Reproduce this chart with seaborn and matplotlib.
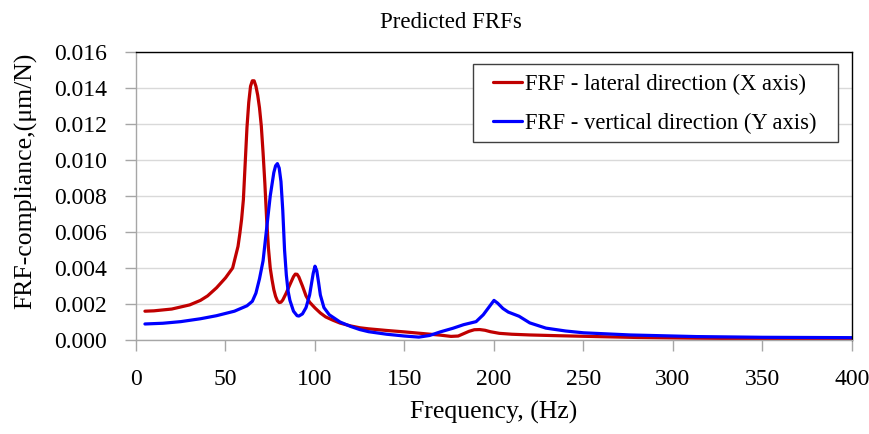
import pandas as pd
import matplotlib
matplotlib.use("Agg")
import matplotlib.pyplot as plt
import matplotlib.ticker as mticker
from matplotlib.patches import Rectangle
import seaborn as sns

# FRF - lateral direction (X axis)
freq_x = [5, 10, 20, 30, 36, 40, 45, 50, 54, 57, 58, 59, 60, 61, 62, 63, 64, 65, 66,
          67, 68, 69, 70, 71, 72, 73, 74, 75, 76, 77, 78, 79, 80, 81, 82, 84, 86, 88,
          89, 90, 91, 93, 95, 97, 100, 103, 106, 110, 114, 120, 125, 130, 140, 150,
          160, 170, 176, 180, 183, 186, 189, 192, 195, 198, 203, 210, 220, 235, 257,
          280, 313, 350, 400]
comp_x = [0.00160, 0.00162, 0.00172, 0.00195, 0.00220, 0.00245, 0.00290, 0.00345,
          0.00400, 0.00520, 0.00590, 0.00670, 0.00780, 0.00980, 0.01180, 0.01320,
          0.01410, 0.01440, 0.01440, 0.01410, 0.01360, 0.01290, 0.01190, 0.01040,
          0.00870, 0.00670, 0.00510, 0.00400, 0.00335, 0.00280, 0.00242, 0.00218,
          0.00208, 0.00210, 0.00222, 0.00262, 0.00308, 0.00352, 0.00366, 0.00365,
          0.00350, 0.00300, 0.00245, 0.00210, 0.00178, 0.00150, 0.00128, 0.00110,
          0.00094, 0.00078, 0.00068, 0.00062, 0.00053, 0.00045, 0.00036, 0.00027,
          0.00020, 0.00022, 0.00035, 0.00048, 0.00057, 0.00058, 0.00054, 0.00046,
          0.00037, 0.00032, 0.00028, 0.00024, 0.00019, 0.00014, 0.00010, 0.00007,
          0.00005]

# FRF - vertical direction (Y axis)
freq_y = [5, 15, 25, 36, 45, 55, 62, 65, 67, 69, 71, 73, 75, 77, 78, 79, 80, 81, 82,
          83, 84, 85, 86, 88, 90, 91, 93, 95, 97, 99, 100, 101, 102, 103, 105, 108,
          114, 120, 125, 130, 140, 150, 158, 164, 170, 177, 183, 190, 194, 197, 200,
          202, 205, 208, 214, 220, 229, 240, 250, 276, 313, 350, 400]
comp_y = [0.00089, 0.00093, 0.00102, 0.00118, 0.00135, 0.00160, 0.00190, 0.00215,
          0.00260, 0.00340, 0.00440, 0.00620, 0.00800, 0.00930, 0.00968, 0.00980,
          0.00955, 0.00880, 0.00720, 0.00500, 0.00360, 0.00270, 0.00220, 0.00160,
          0.00135, 0.00133, 0.00145, 0.00180, 0.00250, 0.00370, 0.00410, 0.00385,
          0.00320, 0.00250, 0.00180, 0.00140, 0.00100, 0.00075, 0.00058, 0.00046,
          0.00032, 0.00022, 0.00016, 0.00025, 0.00045, 0.00065, 0.00085, 0.00102,
          0.00140, 0.00180, 0.00220, 0.00205, 0.00175, 0.00155, 0.00132, 0.00095,
          0.00066, 0.00050, 0.00040, 0.00028, 0.00019, 0.00015, 0.00013]

series_names = ["FRF - lateral direction (X axis)", "FRF - vertical direction (Y axis)"]

df = pd.concat([
    pd.DataFrame({"freq": freq_x, "comp": comp_x, "series": series_names[0]}),
    pd.DataFrame({"freq": freq_y, "comp": comp_y, "series": series_names[1]}),
])

sns.set_theme(style="whitegrid")
plt.rcParams['font.family'] = ['Liberation Serif', 'DejaVu Serif']

fig = plt.figure(figsize=(8.7, 4.34), dpi=100)
ax = fig.add_axes([0.1563, 0.2166, 0.823, 0.6636])

sns.lineplot(data=df, x="freq", y="comp", hue="series", estimator=None, sort=False,
             palette={series_names[0]: "#C00000", series_names[1]: "#0000FF"},
             linewidth=2.3, ax=ax)

ax.set_xlim(0, 400)
ax.set_ylim(0, 0.016)
ax.xaxis.set_major_locator(mticker.MultipleLocator(50))
ax.yaxis.set_major_locator(mticker.MultipleLocator(0.002))
ax.yaxis.set_major_formatter(mticker.FormatStrFormatter('%.3f'))

ax.grid(axis='x', visible=False)
ax.grid(axis='y', color='#d9d9d9', linewidth=1.0)
ax.set_facecolor('white')
for side in ['top', 'right']:
    ax.spines[side].set_color('black')
    ax.spines[side].set_linewidth(1.0)
for side in ['left', 'bottom']:
    ax.spines[side].set_color('#a6a6a6')
    ax.spines[side].set_linewidth(1.0)

ax.tick_params(axis='both', which='major', direction='out', length=8, width=1,
               color='#a6a6a6', labelsize=17, labelcolor='black')
ax.tick_params(axis='x', pad=13, bottom=True)
ax.tick_params(axis='y', pad=13, left=True)

ax.set_xlabel("Frequency, (Hz)", fontsize=18.5, color='black', labelpad=8)
ax.set_ylabel("FRF-compliance,(μm/N)", fontsize=18.5, color='black')
ax.yaxis.set_label_coords(-0.138, 0.552)
ax.set_title("Predicted FRFs", fontsize=16.5, color='black', x=0.44, pad=17)

# legend box drawn separately so its padding matches the original
ax.add_patch(Rectangle((0.4707, 0.6875), 0.5097, 0.2705, transform=ax.transAxes,
                       facecolor='white', edgecolor='#404040', linewidth=1.0,
                       zorder=4.5))
leg = ax.legend(loc='upper left', bbox_to_anchor=(0.4986, 0.925), borderaxespad=0,
                fontsize=16.3, frameon=False, handlelength=1.3,
                handletextpad=0.12, labelspacing=0.8, borderpad=0)
for t in leg.get_texts():
    t.set_color('black')

fig.savefig("out.png", dpi=100)
